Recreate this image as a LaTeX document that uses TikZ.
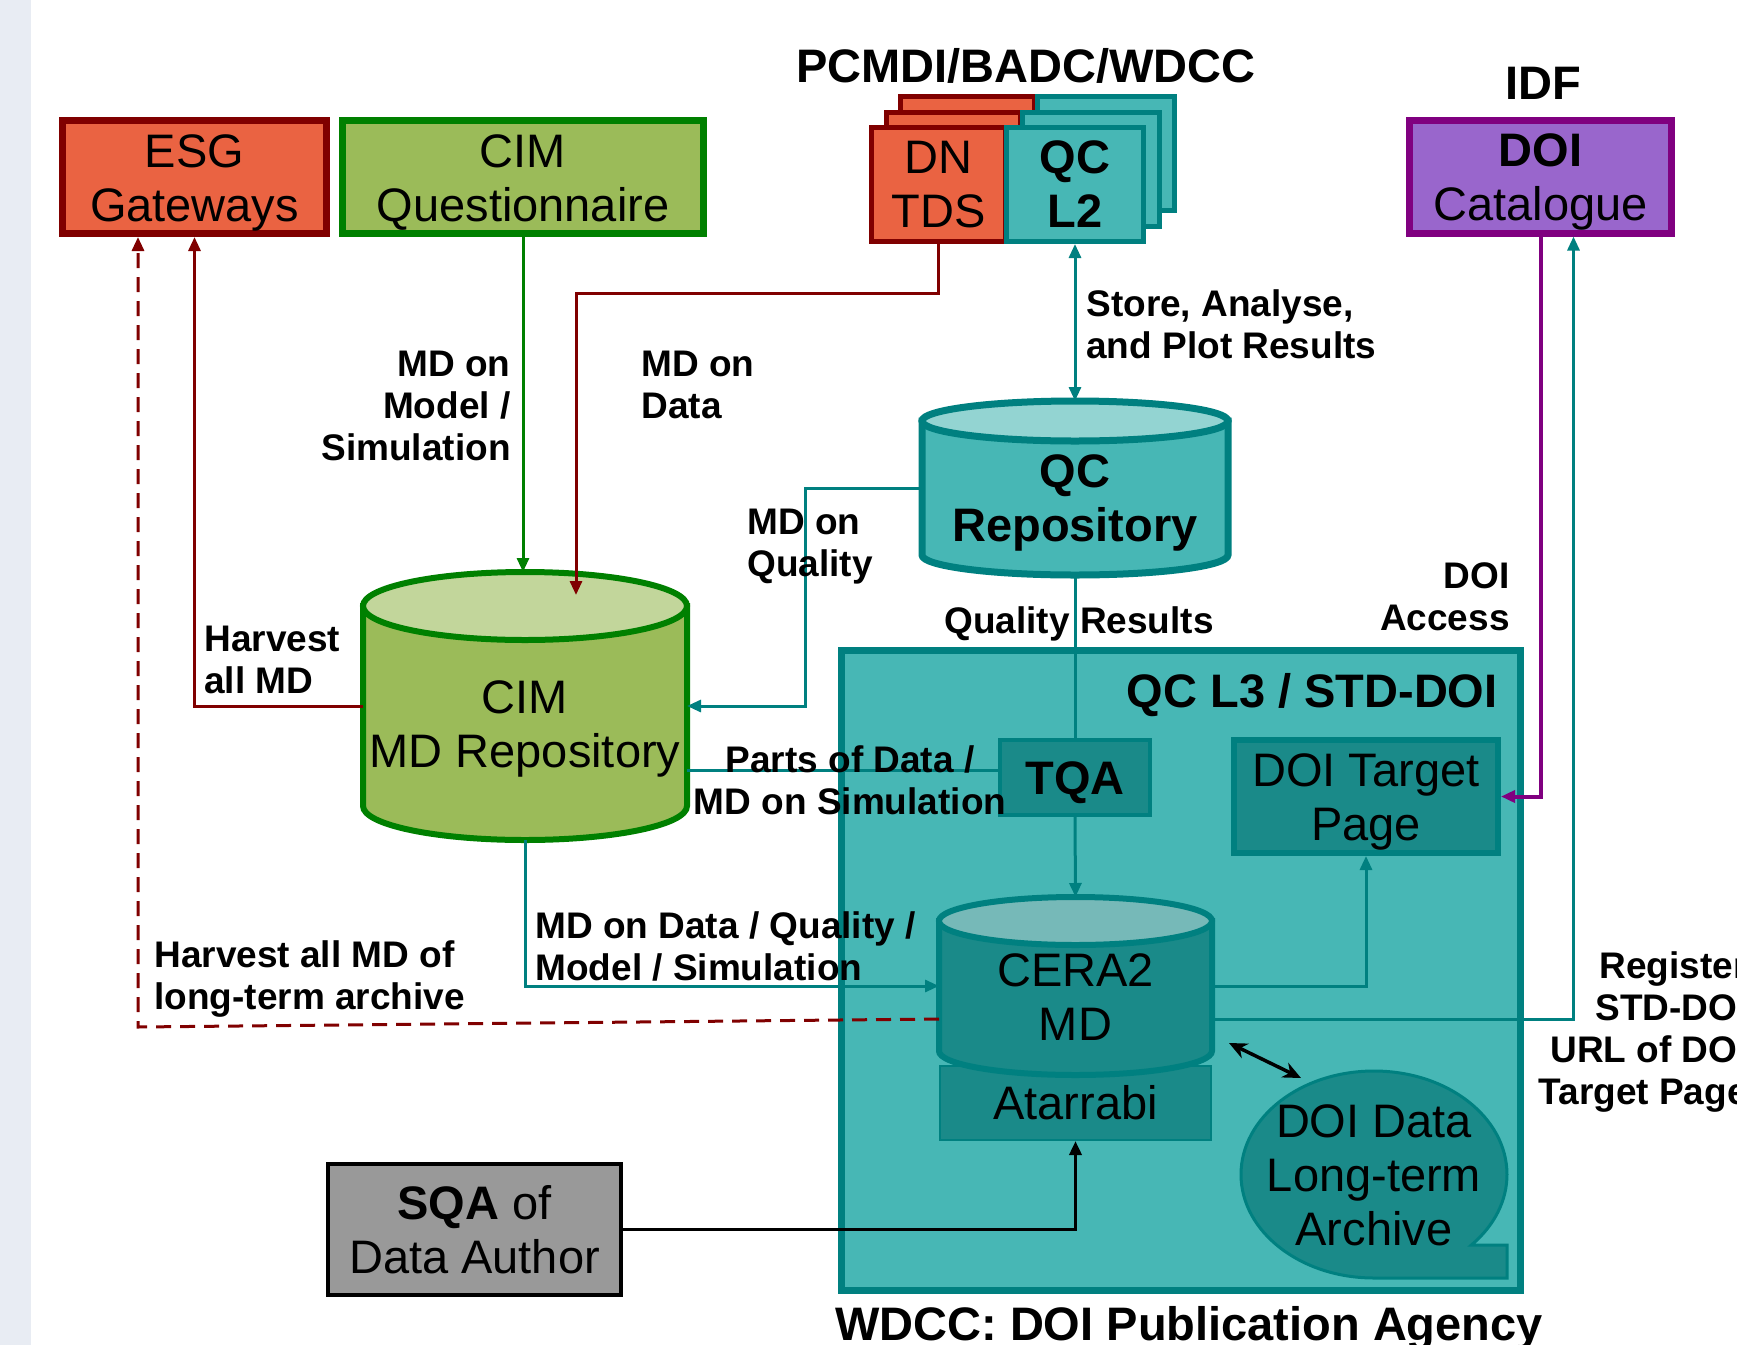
\documentclass[tikz,border=0pt]{standalone}
\usepackage{fontspec}
\setmainfont{Liberation Sans}
\usetikzlibrary{arrows.meta,calc}

\definecolor{esgred}{RGB}{234,99,66}
\definecolor{darkred}{RGB}{128,0,0}
\definecolor{cimgreen}{RGB}{155,187,89}
\definecolor{cimgreenlt}{RGB}{194,214,155}
\definecolor{linegreen}{RGB}{0,128,0}
\definecolor{qcteal}{RGB}{71,183,181}
\definecolor{qcteallt}{RGB}{147,212,210}
\definecolor{lineteal}{RGB}{0,128,128}
\definecolor{deepteal}{RGB}{26,138,137}
\definecolor{ceratop}{RGB}{118,185,184}
\definecolor{doipurple}{RGB}{153,102,204}
\definecolor{linepurple}{RGB}{128,0,128}
\definecolor{sqagray}{RGB}{153,153,153}
\definecolor{stripgray}{RGB}{232,236,243}

% pushes the first line of a box label down a little
\newcommand{\topgap}{\rule{0pt}{22pt}}

\begin{document}
\begin{tikzpicture}[x=0.5pt, y=-0.5pt, >={Triangle[length=7pt,width=6pt]},
  bigtext/.style={font=\fontsize{23.5}{27}\selectfont},
  titletext/.style={font=\fontsize{23.5}{27}\selectfont\bfseries, inner sep=0pt},
  lbltext/.style={font=\fontsize{18.5}{21}\selectfont\bfseries, inner sep=0pt},
  topbox/.style={draw, line width=3.5pt, inner sep=0pt, align=center, bigtext, minimum height=56.5pt},
  stackbox/.style={draw, line width=2.5pt, inner sep=0pt, align=center, bigtext, minimum height=57pt},
  redstack/.style={stackbox, draw=darkred, fill=esgred, minimum width=67pt},
  tealstack/.style={stackbox, draw=lineteal, fill=qcteal, minimum width=68.5pt},
  innerbox/.style={draw=lineteal, fill=deepteal, inner sep=0pt, align=center, bigtext},
  cylbound/.style={inner sep=0pt, outer sep=0pt},
  cyltext/.style={bigtext, align=center, inner sep=0pt},
  redline/.style={draw=darkred, line width=1.5pt},
  tealline/.style={draw=lineteal, line width=1.5pt},
  greenline/.style={draw=linegreen, line width=1.5pt},
  purpleline/.style={draw=linepurple, line width=2pt},
  blackline/.style={draw=black, line width=1.75pt}
]
  \useasboundingbox (0,0) rectangle (1737,1345);
  \clip (0,0) rectangle (1737,1345);
  \fill[stripgray] (0,0) rectangle (31,1345);

  % WDCC area
  \node[draw=lineteal, fill=qcteal, line width=3.5pt, minimum width=339.5pt, minimum height=320pt] (wdcc) at (1181,970.5) {};

  % Top row
  \node[topbox, draw=darkred, fill=esgred, minimum width=132pt] (esg) at (194.5,177) {\topgap ESG\\Gateways};
  \node[topbox, draw=linegreen, fill=cimgreen, minimum width=180.5pt] (cimq) at (523,177) {\topgap CIM\\Questionnaire};
  \node[topbox, draw=linepurple, fill=doipurple, minimum width=131pt] (doicat) at (1540.5,176.5) {\topgap\textbf{DOI}\\Catalogue};

  % Stacked DN / QC L2 boxes
  \node[redstack] (dnback2) at (967.5,153.5) {};
  \node[tealstack] (qcback2) at (1105.5,153.5) {};
  \node[redstack] (dnback1) at (953,169) {};
  \node[tealstack] (qcback1) at (1090.5,169) {};
  \node[redstack] (dn) at (938.5,184.5) {DN\\TDS};
  \node[tealstack, font=\fontsize{23.5}{27}\selectfont\bfseries] (qcl2) at (1075,184.5) {QC\\L2};

  % CIM MD repository
  \filldraw[fill=cimgreen, draw=linegreen, line width=3pt] (363,606) -- (363,806) arc[start angle=180, end angle=0, x radius=162, y radius=34] -- (687,606) -- cycle;
  \filldraw[fill=cimgreenlt, draw=linegreen, line width=3pt] (525,606) ellipse[x radius=162, y radius=34];
  \node[cylbound, minimum width=162pt, minimum height=134pt] (cimmd) at (525,706) {};
  \node[cyltext] (cimtxt) at (525,729) {CIM\\MD Repository};

  % QC repository
  \filldraw[fill=qcteal, draw=lineteal, line width=3.5pt] (922,421) -- (922,555) arc[start angle=180, end angle=0, x radius=153, y radius=20] -- (1228,421) -- cycle;
  \filldraw[fill=qcteallt, draw=lineteal, line width=3.5pt] (1075,421) ellipse[x radius=153, y radius=20];
  \node[cylbound, minimum width=153pt, minimum height=87.5pt] (qcrepo) at (1075,488.5) {};
  \node[titletext, align=center] (qctxt) at (1075,503) {QC\\Repository};

  % Inside WDCC
  \node[innerbox, line width=2pt, minimum width=75pt, minimum height=37.5pt, font=\fontsize{23.5}{27}\selectfont\bfseries] (tqa) at (1075,777.5) {\topgap TQA};
  \node[innerbox, line width=3pt, minimum width=132pt, minimum height=56.5pt] (doitp) at (1366,796.5) {\topgap DOI Target\\Page};
  \node[innerbox, line width=1pt, minimum width=135.5pt, minimum height=37pt] (atarrabi) at (1075.5,1103) {Atarrabi};

  % CERA2 MD
  \filldraw[fill=deepteal, draw=lineteal, line width=3pt] (939,921) -- (939,1051) arc[start angle=180, end angle=0, x radius=136.5, y radius=24] -- (1212,921) -- cycle;
  \filldraw[fill=ceratop, draw=lineteal, line width=3pt] (1075.5,921) ellipse[x radius=136.5, y radius=24];
  \node[cylbound, minimum width=136.5pt, minimum height=89pt] (cera) at (1075.5,986) {};
  \node[cyltext] (ceratxt) at (1075.5,997) {CERA2\\MD};

  % DOI data archive
  \filldraw[fill=deepteal, draw=lineteal, line width=1.5pt] (1374,1278) arc[start angle=90, end angle=403, x radius=133, y radius=103.5] -- (1507,1245) -- (1507,1278) -- cycle;
  \node[cyltext] (archive) at (1374,1175) {DOI Data\\Long-term\\Archive};

  % SQA
  \node[draw=black, fill=sqagray, line width=2pt, inner sep=0pt, align=center, bigtext, minimum width=146.5pt, minimum height=65.5pt] (sqa) at (474.5,1229.5) {\textbf{SQA} of\\Data Author};

  % Connectors
  \draw[tealline, <->] (qcl2.south) -- (qcrepo.north);
  \coordinate (dnturn) at (576,293);
  \draw[redline, ->] (dn.south) |- (dnturn) -- ($(dnturn |- cimmd.north)+(0,23)$);
  \draw[greenline, ->] (cimq.south) -- (cimq.south |- cimmd.north);
  \draw[redline, ->] (cimmd.west) -| (esg.south);
  \coordinate (hvcorner) at (138,1027);
  \draw[redline, dash pattern=on 7.5pt off 4.5pt, ->] ($(cera.west)+(0,33)$) -- (hvcorner) -- (hvcorner |- esg.south);
  \draw[tealline, ->] (qcrepo.west) -| ($(cimmd.east)+(118,0)$) -- (cimmd.east);
  \draw[tealline] (qcrepo.south) -- (tqa.north);
  \draw[tealline] ($(cimmd.east |- tqa.west)+(0,-7)$) -- ($(tqa.west)+(0,-7)$);
  \draw[tealline, ->] (tqa.south) -- (cera.north);
  \draw[tealline, ->] (cimmd.south) |- (cera.west);
  \draw[tealline, ->] (cera.east) -| (doitp.south);
  \draw[tealline, ->] ($(cera.east)+(0,33)$) -| ($(doicat.south)+(33,0)$);
  \draw[purpleline, ->] (doicat.south) |- (doitp.east);
  \draw[blackline, ->] (sqa.east) -| (atarrabi.south);
  \coordinate (archA) at (1229,1043);
  \coordinate (archB) at (1301,1078);
  \draw[blackline, {Stealth[length=9pt,width=8pt]}-{Stealth[length=9pt,width=8pt]}] (archA) -- (archB);

  % Labels
  \node[titletext] (pcmdi) at (1026,66) {PCMDI/BADC/WDCC};
  \node[titletext] (idf) at (1543,83) {IDF};
  \node[lbltext, anchor=west, align=left] (storelbl) at (1086,324) {Store, Analyse,\\and Plot Results};
  \node[lbltext, anchor=east, align=right] (mdmodel) at (511,406) {MD on\\Model /\\Simulation};
  \node[lbltext, anchor=west, align=left] (mddata) at (641,385) {MD on\\Data};
  \node[lbltext, anchor=west, align=left] (mdqual) at (747,547) {MD on\\Quality};
  \node[lbltext] (qres) at (1079,624) {Quality Results};
  \node[lbltext, anchor=east, align=right] (doiacc) at (1510,597) {DOI\\Access};
  \node[lbltext, anchor=west, align=left] (harvlbl) at (204,660) {Harvest\\all MD};
  \node[lbltext, anchor=west, align=left] (harvlta) at (154,979) {Harvest all MD of\\long-term archive};
  \node[lbltext, align=center] (partslbl) at (850,780) {Parts of Data /\\MD on Simulation};
  \node[lbltext, anchor=west, align=left] (mdall) at (535,946) {MD on Data / Quality /\\Model / Simulation};
  \node[titletext, anchor=east] (qcl3) at (1498,695) {QC L3 / STD-DOI};
  \node[titletext] (wdcclbl) at (1189,1328) {WDCC: DOI Publication Agency};
  \node[lbltext, anchor=east, align=right] (reglbl) at (1748,1032) {Register\\STD-DOI\\URL of DOI\\Target Page};
\end{tikzpicture}
\end{document}
